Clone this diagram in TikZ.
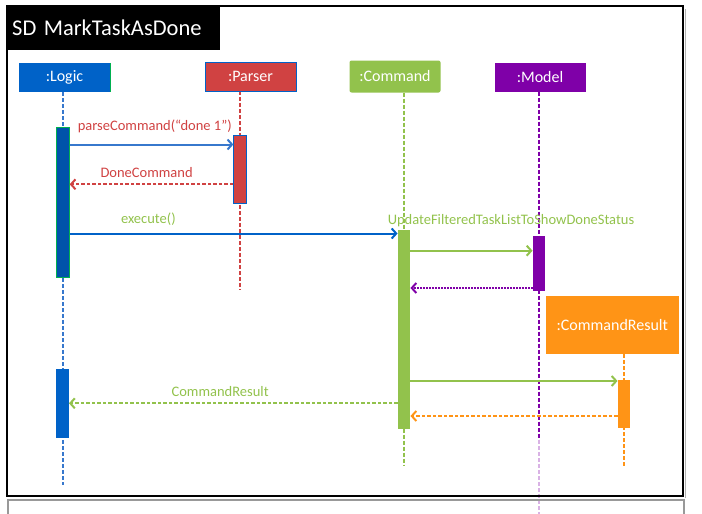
\documentclass[tikz,border=0pt]{standalone}
\usepackage{fontspec}
\setmainfont{Carlito}
\usetikzlibrary{arrows.meta,positioning,backgrounds}
\definecolor{royal}{RGB}{0,98,200}
\definecolor{royalline}{RGB}{55,120,205}
\definecolor{brick}{RGB}{208,66,66}
\definecolor{lime}{RGB}{146,194,76}
\definecolor{plum}{RGB}{127,0,168}
\definecolor{tangerine}{RGB}{255,148,22}
\definecolor{edge}{RGB}{0,176,80}
\tikzset{
  >={Straight Barb[length=4.5pt,width=10pt]},
  head/.style={fill=#1,text=white,minimum width=91pt,minimum height=29pt,
    inner sep=0pt,font=\fontsize{16}{19}\selectfont},
  life/.style={draw=#1,line width=1.8pt,dash pattern=on 4pt off 2pt},
  act/.style={fill=#1,minimum width=12.5pt,inner sep=0pt},
  msg/.style={->,line width=2pt,draw=#1},
  reply/.style={->,line width=2pt,draw=#1,dash pattern=on 3.5pt off 2pt},
  lbl/.style={font=\fontsize{14.5}{17}\selectfont,text=#1,inner sep=1pt},
}
\begin{document}
\begin{tikzpicture}[x=1pt,y=-1pt]
  \useasboundingbox (0,0) rectangle (702,514);
  % frame
  \draw[gray!80,line width=2pt] (8,514) -- (8,499.5) -- (684,499.5) -- (684,514);
  \draw[black!30,line width=1.5pt] (685.5,9) -- (685.5,497.5);
  \draw[black,line width=2.2pt] (7,6) rectangle (683,496);
  \node[fill=black,text=white,anchor=north west,text width=203pt,inner xsep=5pt,
    minimum height=44pt,align=left,font=\fontsize{22.5}{26}\selectfont] (title) at (7,6) {SD MarkTaskAsDone};
  % objects
  \node[head=royal] (logic) at (64.5,77.5) {:Logic};
  \draw[edge,line width=1pt] (logic.north east) -- (logic.south east);
  \node[head=brick,draw=royal,line width=0.8pt] (parser) at (250.5,76.5) {:Parser};
  \node[head=lime,rounded corners=2pt,minimum height=32pt] (command) at (395,76.5) {:Command};
  \node[head=plum] (model) at (540,77) {:Model};
  \node[head=tangerine,minimum width=133pt,minimum height=58pt] (result) at (612.3,325) {:CommandResult};
  % activations
  \node[act=royal!85!black,draw=edge,line width=0.8pt,minimum height=150pt] (logicA) at (63,202) {};
  \node[act=brick,draw=royal,line width=0.8pt,minimum height=68pt] (parserA) at (240,169) {};
  \node[act=lime,minimum height=199pt] (commandA) at (404,329.5) {};
  \node[act=plum,minimum height=55pt] (modelA) at (539,263) {};
  \node[act=tangerine,minimum height=47.5pt] (resultA) at (624,404) {};
  \node[act=royal,minimum height=68.5pt] (logicB) at (62.5,403.3) {};
  % lifelines
  \begin{scope}[on background layer]
    \draw[life=royalline] (logicA |- logic.south) -- (logicA |- 0,485);
    \draw[life=brick] (parserA |- parser.south) -- (parserA |- 0,290);
    \draw[life=lime] (commandA |- command.south) -- (commandA |- 0,465);
    \draw[life=plum] (modelA |- model.south) -- (modelA |- 0,440);
    \draw[life=plum!30] (modelA |- 0,440) -- (modelA |- 0,514);
    \draw[life=tangerine] (resultA |- result.south) -- (resultA |- 0,468);
  \end{scope}
  % messages
  \draw[msg=royalline] (logicA.east |- 0,144.5) -- node[lbl=brick,above=10pt,pos=0.52] {parseCommand(“done 1”)} (parserA.west |- 0,144.5);
  \draw[reply=brick] (parserA.west |- 0,184.3) -- node[lbl=brick,above=4.5pt,pos=0.53] {DoneCommand} (logicA.east |- 0,184.3);
  \draw[msg=royal] (logicA.east |- 0,233.5) -- node[lbl=lime,above=5.5pt,pos=0.24] {execute()} (commandA.west |- 0,233.5);
  \node[lbl=lime] (updLbl) at (511,221) {UpdateFilteredTaskListToShowDoneStatus};
  \draw[msg=lime] (commandA.east |- 0,250.7) -- (modelA.west |- 0,250.7);
  \draw[msg=plum,dash pattern=on 1.5pt off 1.5pt] (modelA.west |- 0,288) -- (commandA.east |- 0,288);
  \draw[msg=lime] (commandA.east |- 0,381) -- (resultA.west |- 0,381);
  \draw[reply=tangerine] (resultA.west |- 0,416) -- (commandA.east |- 0,416);
  \draw[reply=lime] (commandA.west |- 0,403.3) -- node[lbl=lime,above=4.5pt,pos=0.54] {CommandResult} (logicB.east |- 0,403.3);
\end{tikzpicture}
\end{document}
